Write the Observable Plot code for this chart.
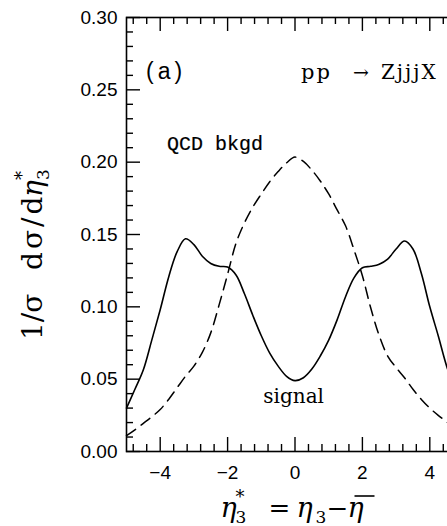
<!DOCTYPE html>
<html><head><meta charset="utf-8">
<script src="https://cdn.jsdelivr.net/npm/d3@7"></script>
<script src="https://cdn.jsdelivr.net/npm/@observablehq/plot@0.6"></script>
<style>
html,body{margin:0;padding:0;background:#fff;overflow:hidden;}
#chart{width:447px;height:526px;overflow:hidden;}
#chart svg{max-width:none !important;}
</style></head><body><div id="chart"></div>
<script>
// η3* values
const etaStar = [-5,-4.75,-4.5,-4.25,-4,-3.75,-3.5,-3.25,-3,-2.75,-2.5,-2.25,-2,-1.75,-1.5,-1.25,-1,-0.75,-0.5,-0.25,0,
  0.25,0.5,0.75,1,1.25,1.5,1.75,2,2.25,2.5,2.75,3,3.25,3.5,3.75,4,4.25,4.5,4.75,5];
// signal (solid)
const signal = [0.030,0.043,0.0565,0.077,0.098,0.1205,0.138,0.147,0.143,0.135,0.130,0.128,0.1275,0.122,0.109,0.094,0.080,0.068,0.059,0.052,0.049,
  0.051,0.057,0.066,0.077,0.091,0.107,0.120,0.127,0.128,0.1295,0.133,0.140,0.1455,0.140,0.123,0.100,0.080,0.059,0.043,0.030];
// QCD background (dashed)
const qcdBkgd = [0.011,0.015,0.0195,0.024,0.029,0.036,0.044,0.052,0.059,0.0685,0.082,0.1015,0.1225,0.144,0.158,0.169,0.178,0.1865,0.1935,0.1995,0.2035,
  0.2005,0.1945,0.187,0.178,0.167,0.156,0.1395,0.1215,0.099,0.080,0.066,0.058,0.051,0.043,0.036,0.030,0.025,0.0205,0.015,0.011];

const xMajorTicks = [-4,-2,0,2,4];
const xMinorTicks = [-4.8,-4.4,-3.6,-3.2,-2.8,-2.4,-1.6,-1.2,-0.8,-0.4,0.4,0.8,1.2,1.6,2.4,2.8,3.2,3.6,4.4,4.8];
const yMajorTicks = [0,0.05,0.10,0.15,0.20,0.25,0.30];
const yMinorTicks = [0.01,0.02,0.03,0.04,0.06,0.07,0.08,0.09,0.11,0.12,0.13,0.14,0.16,0.17,0.18,0.19,0.21,0.22,0.23,0.24,0.26,0.27,0.28,0.29];

const panelLabel = [{x: -4.42, y: 0.2576, text: "(a)"}];
const reaction = [
  {x: 0.18, y: 0.2576, text: "pp"},
  {x: 1.72, y: 0.2576, text: "→"},
  {x: 2.55, y: 0.2576, text: "ZjjjX"}
];
const qcdLabel = [{x: -3.80, y: 0.2084, text: "QCD bkgd"}];
const signalLabel = [{x: -0.04, y: 0.0336, text: "signal"}];

const rows = etaStar.map((e,i) => ({eta: e, signal: signal[i], qcd: qcdBkgd[i]}));

const W = 463, H = 526, mL = 126, mR = 0, mT = 17, mB = 75;
const fw = W - mL - mR, fh = H - mT - mB;
const tk = {stroke: "#000", strokeWidth: 1.4};

const plot = Plot.plot({
  width: W, height: H,
  marginLeft: mL, marginRight: mR, marginTop: mT, marginBottom: mB,
  x: {domain: [-5,5], label: null},
  y: {domain: [0,0.30], label: null},
  style: {background: "#fff", color: "#000", fontFamily: "Liberation Sans, Arial, sans-serif", maxWidth: "none"},
  marks: [
    Plot.line(rows, {x: "eta", y: "qcd", curve: "catmull-rom", stroke: "#000", strokeWidth: 1.5, strokeDasharray: "11,7"}),
    Plot.line(rows, {x: "eta", y: "signal", curve: "catmull-rom", stroke: "#000", strokeWidth: 1.6}),
    // inward ticks (bottom, top, left)
    Plot.tickX(xMinorTicks, {x: d => d, insetTop: fh - 7, ...tk}),
    Plot.tickX(xMajorTicks, {x: d => d, insetTop: fh - 14, ...tk}),
    Plot.tickX(xMinorTicks, {x: d => d, insetBottom: fh - 7, ...tk}),
    Plot.tickX(xMajorTicks, {x: d => d, insetBottom: fh - 14, ...tk}),
    Plot.tickY(yMinorTicks, {y: d => d, insetRight: fw - 7, ...tk}),
    Plot.tickY(yMajorTicks, {y: d => d, insetRight: fw - 14, ...tk}),
    Plot.frame({stroke: "#000", strokeWidth: 1.6}),
    // tick labels
    Plot.axisX(xMajorTicks, {anchor: "bottom", tickSize: 0, tickPadding: 14, fontSize: 19, label: null}),
    Plot.axisY(yMajorTicks, {anchor: "left", tickSize: 0, tickPadding: 9, fontSize: 19, tickFormat: d3.format(".2f"), label: null}),
    // annotations
    Plot.text(panelLabel, {x: "x", y: "y", text: "text", textAnchor: "start", lineAnchor: "bottom", fontSize: 23, fill: "#000"}),
    Plot.text(reaction, {x: "x", y: "y", text: "text", textAnchor: "start", lineAnchor: "bottom", fontSize: 20, fill: "#000", fontFamily: "DejaVu Serif"}),
    Plot.text(qcdLabel, {x: "x", y: "y", text: "text", textAnchor: "start", lineAnchor: "bottom", fontSize: 20, fill: "#000", fontFamily: "Liberation Mono"}),
    Plot.text(signalLabel, {x: "x", y: "y", text: "text", textAnchor: "middle", lineAnchor: "bottom", fontSize: 20, fill: "#000", fontFamily: "DejaVu Serif"})
  ]
});

document.getElementById("chart").appendChild(plot);

const svg = d3.select(plot);
const serifF = "'DejaVu Serif', serif";
const sansF = "'Liberation Sans', Arial, sans-serif";
const monoF = "'Liberation Mono', 'Courier New', monospace";
const styleText = (str, fam, ls, size) => {
  const s = svg.selectAll("text").filter(function() { return this.textContent === str; })
    .style("font-family", fam).style("letter-spacing", ls + "px");
  if (size) s.style("font-size", size + "px");
  return s;
};
styleText("(a)", sansF, 4);
styleText("pp", serifF, 2, 21);
styleText("→", serifF, 0, 19);
styleText("ZjjjX", serifF, 2, 20);
styleText("QCD bkgd", monoF, 0).style("stroke", "#000").style("stroke-width", "0.2px");
styleText("signal", serifF, 0);

// axis titles with sub/superscripts
const xs = plot.scale("x"), ys = plot.scale("y");
const cx = xs.apply(0), y0 = ys.apply(0);
function put(g, x, y, size, str, italic) {
  return g.append("text").attr("x", x).attr("y", y).attr("text-anchor", "start")
    .style("font-family", serifF).style("font-size", size + "px")
    .style("font-style", italic ? "italic" : "normal").attr("fill", "#000").text(str);
}

// x title: η3* = η3 − η̄
const xt = svg.append("g");
const bx = cx - 74, by = y0 + 66;
put(xt, bx, by, 27, "η", true);
put(xt, bx + 15, by - 14, 18, "*");
put(xt, bx + 15, by + 6, 17, "3");
put(xt, bx + 48, by, 26, "=");
put(xt, bx + 76, by, 27, "η", true);
put(xt, bx + 95, by + 6, 17, "3");
put(xt, bx + 106, by, 26, "−");
put(xt, bx + 127, by, 27, "η", true);
xt.append("line").attr("x1", bx + 134).attr("x2", bx + 154).attr("y1", by - 21).attr("y2", by - 21)
  .attr("stroke", "#000").attr("stroke-width", 1.6);

// y title: 1/σ  dσ/dη3*
const yt = svg.append("g").attr("transform", `translate(${42},${y0 - 111}) rotate(-90)`);
put(yt, 0, 0, 28, "1/σ");
put(yt, 70, 0, 28, "dσ/d").style("letter-spacing", "3px");
put(yt, 143, 0, 28, "η", true);
put(yt, 160, -14, 18, "*");
put(yt, 160, 7, 17, "3");
</script></body></html>
